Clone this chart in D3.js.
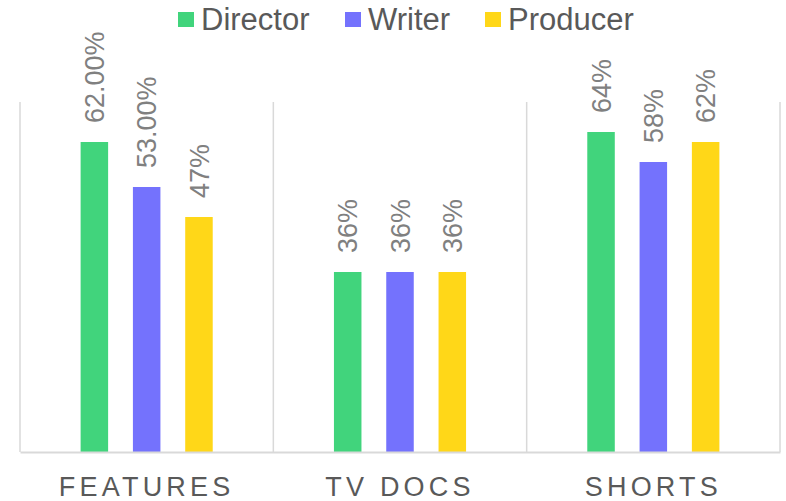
<!DOCTYPE html>
<html>
<head>
<meta charset="utf-8">
<script src="https://cdn.jsdelivr.net/npm/d3@7"></script>
<style>
html,body{margin:0;padding:0;background:#fff;}
svg{display:block;font-family:"Liberation Sans",Arial,sans-serif;}
</style>
</head>
<body>
<svg id="chart" width="786" height="501"></svg>
<script>
const categories = ["FEATURES", "TV DOCS", "SHORTS"];
const series = ["Director", "Writer", "Producer"];
const director = [62, 36, 64];
const writer = [53, 36, 58];
const producer = [47, 36, 62];
const directorLabels = ["62.00%", "36%", "64%"];
const writerLabels = ["53.00%", "36%", "58%"];
const producerLabels = ["47%", "36%", "62%"];
const colors = ["#41d47c", "#7472fd", "#ffd718"];

(function(){
const values = [director, writer, producer];
const labels = [directorLabels, writerLabels, producerLabels];

const svg = d3.select("#chart");
const pLeft = 20, pRight = 780, pTop = 102, pBottom = 452;

const x0 = d3.scaleBand().domain(categories).range([pLeft, pRight]).padding(0);
const x1 = d3.scaleBand().domain(series).range([0, x0.bandwidth()])
  .paddingInner(0.474).paddingOuter(1.159);
const y = d3.scaleLinear().domain([0, 70]).range([pBottom, pTop]);

// vertical category separators
const seps = [pLeft].concat(categories.map(c => x0(c) + x0.bandwidth()));
svg.append("g").selectAll("line").data(seps).join("line")
  .attr("x1", d => d).attr("x2", d => d)
  .attr("y1", pTop).attr("y2", pBottom)
  .attr("stroke", "#d9d9d9").attr("stroke-width", 1.5);

// bars
const data = [];
categories.forEach((c, i) => {
  series.forEach((s, j) => {
    data.push({cat: c, ser: s, v: values[j][i], label: labels[j][i], color: colors[j]});
  });
});

svg.append("g").selectAll("rect").data(data).join("rect")
  .attr("x", d => x0(d.cat) + x1(d.ser))
  .attr("width", x1.bandwidth())
  .attr("y", d => y(d.v))
  .attr("height", d => y(0) - y(d.v))
  .attr("fill", d => d.color);

// baseline axis
const xAxis = d3.axisBottom(x0).tickSize(0).tickPadding(0);
const ax = svg.append("g").attr("transform", `translate(0,${pBottom})`).call(xAxis);
ax.select(".domain").attr("stroke", "#d9d9d9").attr("stroke-width", 2);
ax.selectAll(".tick text")
  .attr("y", 44)
  .attr("dy", 0)
  .attr("font-size", 27)
  .attr("font-family", "'Liberation Sans',Arial,sans-serif")
  .attr("letter-spacing", "4.2px")
  .attr("fill", "#595959");

// data labels
svg.append("g").selectAll("text").data(data).join("text")
  .attr("transform", d => `translate(${x0(d.cat) + x1(d.ser) + x1.bandwidth()/2},${y(d.v) - 19}) rotate(-90)`)
  .attr("text-anchor", "start")
  .attr("dy", "0.358em")
  .attr("font-size", 27)
  .attr("fill", "#808080")
  .text(d => d.label);

// legend
const legendX = [178, 345, 485];
const lg = svg.append("g").selectAll("g").data(series).join("g")
  .attr("transform", (d, i) => `translate(${legendX[i]},0)`);
lg.append("rect").attr("x", 0).attr("y", 12).attr("width", 16).attr("height", 15)
  .attr("fill", (d, i) => colors[i]);
lg.append("text").attr("x", 23).attr("y", 30)
  .attr("font-size", 31).attr("fill", "#595959")
  .text(d => d);
})();
</script>
</body>
</html>
